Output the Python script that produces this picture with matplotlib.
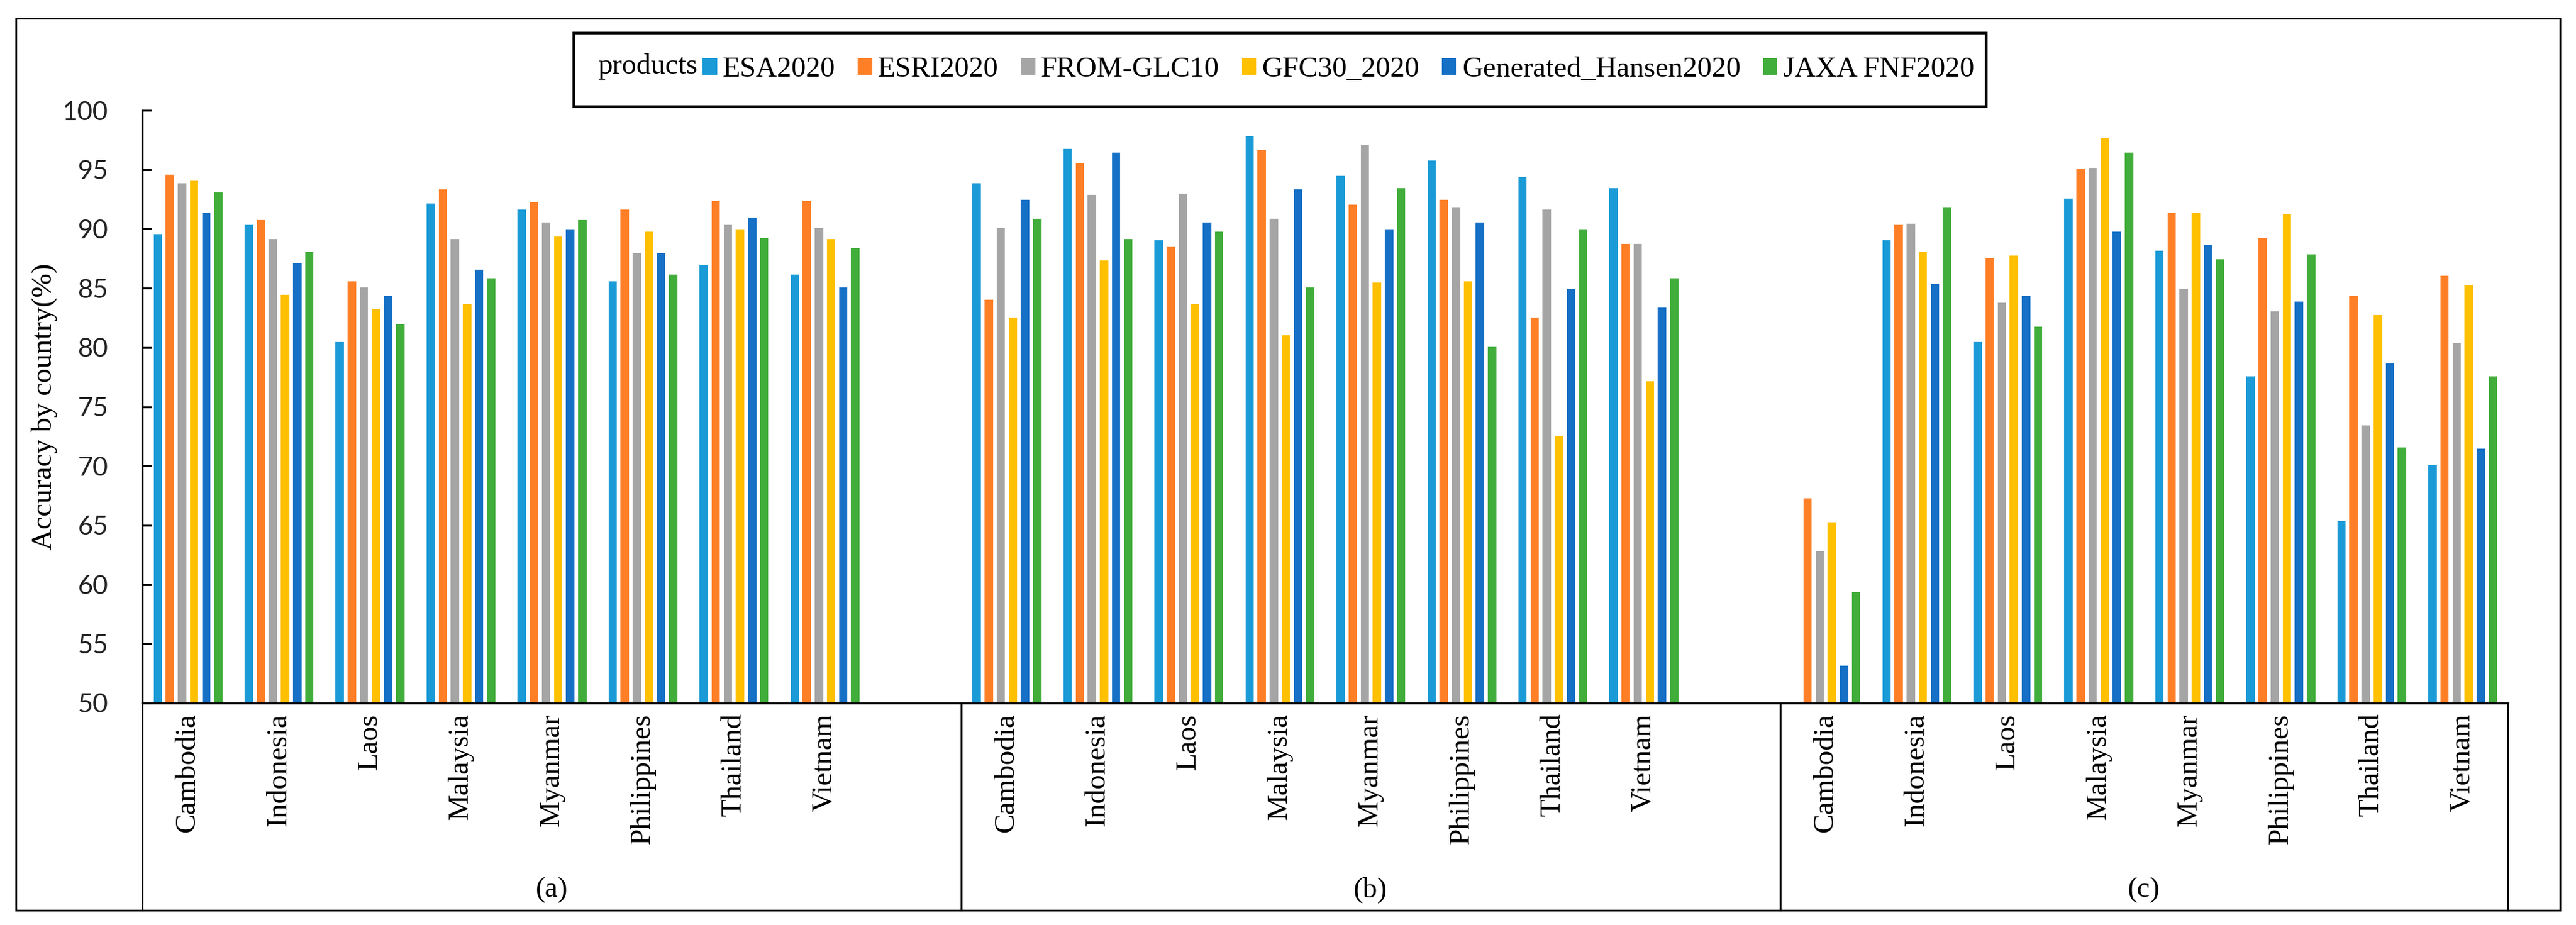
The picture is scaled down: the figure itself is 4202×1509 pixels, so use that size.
import numpy as np
import matplotlib
matplotlib.use("Agg")
import matplotlib.pyplot as plt
from matplotlib.patches import Rectangle, Patch
from matplotlib.lines import Line2D
from matplotlib.transforms import blended_transform_factory

countries = ["Cambodia", "Indonesia", "Laos", "Malaysia", "Myanmar",
             "Philippines", "Thailand", "Vietnam"]
panel_labels = ["(a)", "(b)", "(c)"]
products = ["ESA2020", "ESRI2020", "FROM-GLC10", "GFC30_2020",
            "Generated_Hansen2020", "JAXA FNF2020"]
colors = ["#1A9BD7", "#FF7F27", "#A5A5A5", "#FFC000", "#1570C6", "#41AD3A"]

# rows: products (ESA, ESRI, FROM-GLC10, GFC30, Hansen, JAXA); columns: countries
panel_a = [
    [89.6, 90.4, 80.5, 92.2, 91.7, 85.6, 87.0, 86.2],
    [94.6, 90.8, 85.6, 93.4, 92.3, 91.7, 92.4, 92.4],
    [93.9, 89.2, 85.1, 89.2, 90.6, 88.0, 90.4, 90.1],
    [94.1, 84.5, 83.3, 83.7, 89.4, 89.8, 90.0, 89.2],
    [91.4, 87.2, 84.4, 86.6, 90.0, 88.0, 91.0, 85.1],
    [93.1, 88.1, 82.0, 85.9, 90.8, 86.2, 89.3, 88.4],
]
panel_b = [
    [93.9, 96.8, 89.1, 97.9, 94.5, 95.8, 94.4, 93.5],
    [84.1, 95.6, 88.5, 96.7, 92.1, 92.5, 82.6, 88.8],
    [90.1, 92.9, 93.0, 90.9, 97.1, 91.9, 91.7, 88.8],
    [82.6, 87.4, 83.7, 81.1, 85.5, 85.6, 72.6, 77.2],
    [92.5, 96.5, 90.6, 93.4, 90.0, 90.6, 85.0, 83.4],
    [90.9, 89.2, 89.8, 85.1, 93.5, 80.1, 90.0, 85.9],
]
panel_c = [
    [np.nan, 89.1, 80.5, 92.6, 88.2, 77.6, 65.4, 70.1],
    [67.3, 90.4, 87.6, 95.1, 91.4, 89.3, 84.4, 86.1],
    [62.9, 90.5, 83.8, 95.2, 85.0, 83.1, 73.5, 80.4],
    [65.3, 88.1, 87.8, 97.7, 91.4, 91.3, 82.8, 85.3],
    [53.2, 85.4, 84.4, 89.8, 88.7, 83.9, 78.7, 71.5],
    [59.4, 91.9, 81.8, 96.5, 87.5, 87.9, 71.6, 77.6],
]
panels = [panel_a, panel_b, panel_c]
yticks = [50, 55, 60, 65, 70, 75, 80, 85, 90, 95, 100]

W, H = 4202, 1509
DPI = 100
fig = plt.figure(figsize=(W / DPI, H / DPI), dpi=DPI)

SERIF = ["Liberation Serif", "DejaVu Serif"]
TICKF = ["Lato", "DejaVu Sans"]

def fx(px):
    return px / W

def fy(py):
    return 1 - py / H

ax_l, ax_r, ax_t, ax_b = 232, 4091, 180, 1147
ax = fig.add_axes([fx(ax_l), fy(ax_b), fx(ax_r - ax_l), fy(ax_t) - fy(ax_b)])

n_slots = 26
pitch = 0.133
bw = 0.098
for p, data in enumerate(panels):
    base = np.arange(len(countries)) + p * 9
    for k, vals in enumerate(data):
        ax.bar(base + (k - 2.5) * pitch, vals, width=bw, color=colors[k],
               edgecolor="white", linewidth=0.6, zorder=2)

ax.set_xlim(-0.5, n_slots - 0.5)
ax.set_ylim(50, 100)
ax.set_yticks(yticks)
ax.set_yticklabels([str(t) for t in yticks], fontfamily=TICKF, fontsize=31,
                   color="#222222")
ax.tick_params(axis="y", direction="in", length=11, width=2.2, pad=40)

tick_pos = [p * 9 + i for p in range(3) for i in range(len(countries))]
ax.set_xticks(tick_pos)
ax.set_xticklabels(countries * 3, rotation=90, fontfamily=SERIF, fontsize=34)
ax.tick_params(axis="x", length=0, pad=12)

for s in ["top", "right"]:
    ax.spines[s].set_visible(False)
ax.spines["left"].set_linewidth(2.4)
ax.spines["bottom"].set_linewidth(2.4)

ax.set_ylabel("Accuracy by country(%)", fontfamily=SERIF, fontsize=34,
              labelpad=20)
ax.yaxis.set_label_coords((94 - ax_l) / (ax_r - ax_l), 0.5)

# category table lines below the axis
frame_b = 1485
trans = blended_transform_factory(ax.transData, fig.transFigure)
for xb in [-0.5, 8.5, 17.5, 25.5]:
    ax.add_line(Line2D([xb, xb], [fy(ax_b), fy(frame_b)], transform=trans,
                       color="black", lw=2.2, clip_on=False))
panel_ranges = [(-0.5, 8.5), (8.5, 17.5), (17.5, 25.5)]
for (x0, x1), lab in zip(panel_ranges, panel_labels):
    ax.text((x0 + x1) / 2, fy(1452), lab, transform=trans, ha="center",
            va="center", fontfamily=SERIF, fontsize=34)

# outer frame
fig.patches.append(Rectangle((fx(26), fy(frame_b)), fx(4176 - 26),
                             fy(30) - fy(frame_b), transform=fig.transFigure,
                             fill=False, edgecolor="black", lw=2.0))

# legend box
leg_l, leg_r = 936, 3240
fig.patches.append(Rectangle((fx(leg_l), fy(174)), fx(leg_r - leg_l),
                             fy(54) - fy(174), transform=fig.transFigure,
                             fill=False, edgecolor="black", lw=3.2))
fig.text(fx(975), fy(108), "products", ha="left", va="center",
         fontfamily=SERIF, fontsize=34)
handles = [Patch(facecolor=c, edgecolor="none") for c in colors]
fig.legend(handles, products, loc="center left",
           bbox_to_anchor=(fx(1146), fy(114)), ncol=6, frameon=False,
           prop={"family": SERIF, "size": 34}, handlelength=0.5,
           handleheight=0.5, handletextpad=0.2, columnspacing=0.77,
           borderpad=0, borderaxespad=0)

fig.savefig("out.png", dpi=DPI)
